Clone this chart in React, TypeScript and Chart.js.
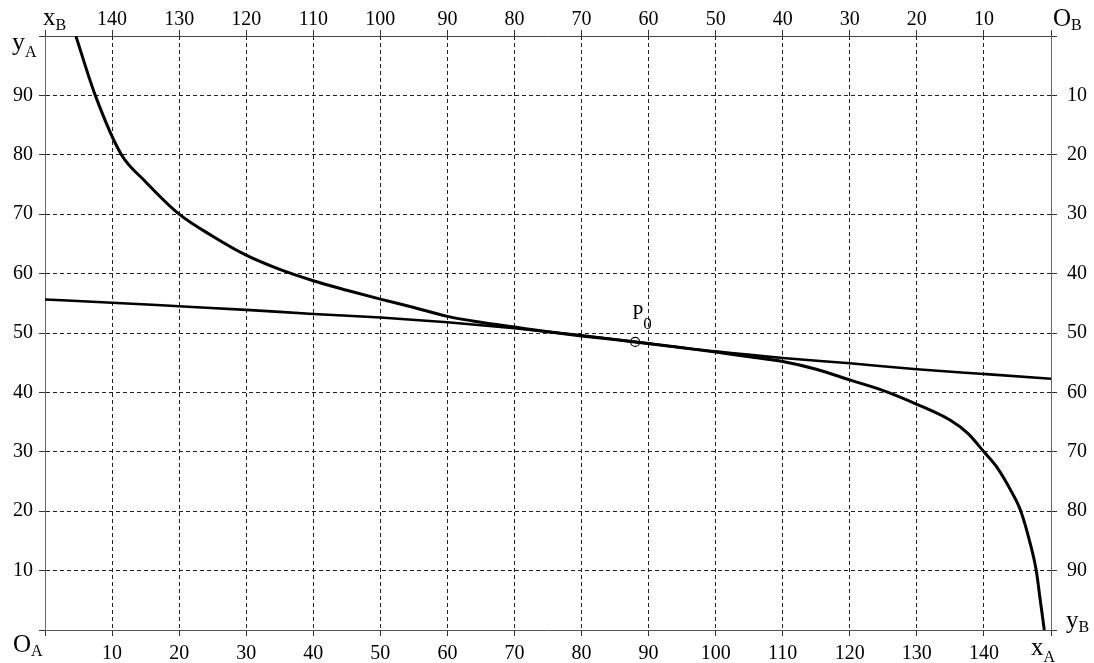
import React, { useEffect, useRef } from "react";
import { Chart, registerables } from "chart.js";
Chart.register(...registerables);

const X_MIN = 0;
const X_MAX = 150;
const Y_MIN = 0;
const Y_MAX = 100;
const STEP = 10;

// thick indifference curve
const curveX = [4.6, 7.5, 11.4, 14.7, 20, 25, 30, 35, 40, 45, 50, 55, 60, 65, 70, 75, 80, 88.0, 95, 100, 105, 110, 115, 120, 125, 130, 135, 137.6, 140, 142, 144, 145.5, 146.8, 147.8, 148.4, 149.0];
const curveY = [100, 90, 80, 75.8, 70, 66.3, 63.1, 60.7, 58.8, 57.2, 55.7, 54.3, 52.8, 51.8, 51.0, 50.2, 49.5, 48.5, 47.5, 46.8, 46.0, 45.2, 43.9, 42.1, 40.3, 38.0, 35.3, 33.1, 30, 27.3, 23.5, 20.0, 15.0, 10, 5, 0];

// flatter curve
const lineX = [0, 10, 20, 30, 40, 50, 60, 70, 80, 88.0, 100, 110, 120, 130, 140, 150];
const lineY = [55.65, 55.1, 54.5, 53.9, 53.2, 52.6, 51.8, 50.8, 49.6, 48.5, 46.9, 45.8, 44.9, 43.9, 43.1, 42.3];

// point P0
const p0X = [88.0];
const p0Y = [48.5];

const FONT = '"Liberation Serif", "Times New Roman", serif';

const toPts = (xs: number[], ys: number[]) => xs.map((x, i) => ({ x, y: ys[i] }));

const labelsPlugin = {
  id: "boxLabels",
  afterDraw(chart: any) {
    const { ctx, chartArea } = chart;
    const L = chartArea.left, T = chartArea.top, R = chartArea.right, B = chartArea.bottom;
    const draw = (main: string, sub: string, x: number, y: number, ms: number, ss: number, dy: number) => {
      ctx.save();
      ctx.fillStyle = "#000";
      ctx.textBaseline = "alphabetic";
      ctx.textAlign = "left";
      ctx.font = `${ms}px ${FONT}`;
      ctx.fillText(main, x, y);
      const w = ctx.measureText(main).width;
      ctx.font = `${ss}px ${FONT}`;
      ctx.fillText(sub, x + w, y + dy);
      ctx.restore();
    };
    draw("x", "B", L - 2, T - 11, 25, 16, 5);
    draw("y", "A", L - 33, T + 14, 26, 16, 7);
    draw("O", "A", L - 32, B + 22, 25, 16, 4);
    draw("O", "B", R + 2, T - 10, 25, 16, 4);
    draw("x", "A", R - 20, B + 25, 25, 16, 7);
    draw("y", "B", R + 15, B - 2, 25, 16, 4);
    const xs = chart.scales.x, ys = chart.scales.y;
    const px = xs.getPixelForValue(p0X[0]);
    const py = ys.getPixelForValue(p0Y[0]);
    draw("P", "0", px - 3, py - 23, 20, 17, 10);
  },
};

export default function App() {
  const ref = useRef<HTMLCanvasElement | null>(null);
  useEffect(() => {
    if (!ref.current) return;
    const tickFont = { family: FONT, size: 20 };
    const edgeX = (v: number) => v === X_MIN || v === X_MAX;
    const edgeY = (v: number) => v === Y_MIN || v === Y_MAX;
    const chart = new Chart(ref.current, {
      type: "scatter",
      data: {
        datasets: [
          {
            data: toPts(lineX, lineY),
            showLine: true,
            borderColor: "#000",
            borderWidth: 2.6,
            pointRadius: 0,
            cubicInterpolationMode: "monotone",
            xAxisID: "x",
            yAxisID: "y",
          },
          {
            data: toPts(curveX, curveY),
            showLine: true,
            borderColor: "#000",
            borderWidth: 3,
            pointRadius: 0,
            cubicInterpolationMode: "monotone",
            xAxisID: "x",
            yAxisID: "y",
          },
          {
            data: toPts(p0X, p0Y),
            showLine: false,
            pointRadius: 4.5,
            pointBackgroundColor: "#fff",
            pointBorderColor: "#000",
            pointBorderWidth: 1.2,
            xAxisID: "x",
            yAxisID: "y",
          },
        ],
      },
      options: {
        animation: false,
        responsive: true,
        maintainAspectRatio: false,
        layout: { padding: 0 },
        plugins: { legend: { display: false }, tooltip: { enabled: false } },
        scales: {
          x: {
            type: "linear",
            position: "bottom",
            min: X_MIN,
            max: X_MAX,
            afterFit: (s: any) => { s.height = 33; },
            ticks: {
              stepSize: STEP,
              font: tickFont,
              color: "#000",
              padding: 6,
              maxRotation: 0,
              autoSkip: false,
              callback: (v: any) => (edgeX(Number(v)) ? "" : String(v)),
            },
            grid: {
              color: (c: any) => (c.tick && edgeX(c.tick.value) ? "rgba(0,0,0,0)" : "#222"),
              lineWidth: 1,
              tickLength: 6,
              tickColor: "#333",
              tickBorderDash: [],
            },
            border: { color: "#555", width: 1, dash: [4, 3] },
          },
          xTop: {
            type: "linear",
            position: "top",
            min: X_MIN,
            max: X_MAX,
            reverse: true,
            afterFit: (s: any) => { s.height = 36; },
            ticks: {
              stepSize: STEP,
              font: tickFont,
              color: "#000",
              padding: -2,
              maxRotation: 0,
              autoSkip: false,
              callback: (v: any) => (edgeX(Number(v)) ? "" : String(v)),
            },
            grid: { drawOnChartArea: false, tickLength: 6, tickColor: "#333" },
            border: { color: "#444", width: 1 },
          },
          y: {
            type: "linear",
            position: "left",
            min: Y_MIN,
            max: Y_MAX,
            afterFit: (s: any) => { s.width = 45; },
            ticks: {
              stepSize: STEP,
              font: tickFont,
              color: "#000",
              padding: 6,
              autoSkip: false,
              callback: (v: any) => (edgeY(Number(v)) ? "" : String(v)),
            },
            grid: {
              color: (c: any) => (c.tick && edgeY(c.tick.value) ? "rgba(0,0,0,0)" : "#222"),
              lineWidth: 1,
              tickLength: 6,
              tickColor: "#333",
              tickBorderDash: [],
            },
            border: { color: "#666", width: 1, dash: [4, 3] },
          },
          yRight: {
            type: "linear",
            position: "right",
            min: Y_MIN,
            max: Y_MAX,
            reverse: true,
            afterFit: (s: any) => { s.width = 43; },
            ticks: {
              stepSize: STEP,
              font: tickFont,
              color: "#000",
              padding: 10,
              autoSkip: false,
              callback: (v: any) => (edgeY(Number(v)) ? "" : String(v)),
            },
            grid: { drawOnChartArea: false, tickLength: 6, tickColor: "#333" },
            border: { color: "#666", width: 1 },
          },
        },
      },
      plugins: [labelsPlugin],
    } as any);
    return () => chart.destroy();
  }, []);
  return (
    <div style={{ position: "fixed", left: 0, top: 0, width: 1094, height: 663, background: "#fff" }}>
      <canvas ref={ref} />
    </div>
  );
}
